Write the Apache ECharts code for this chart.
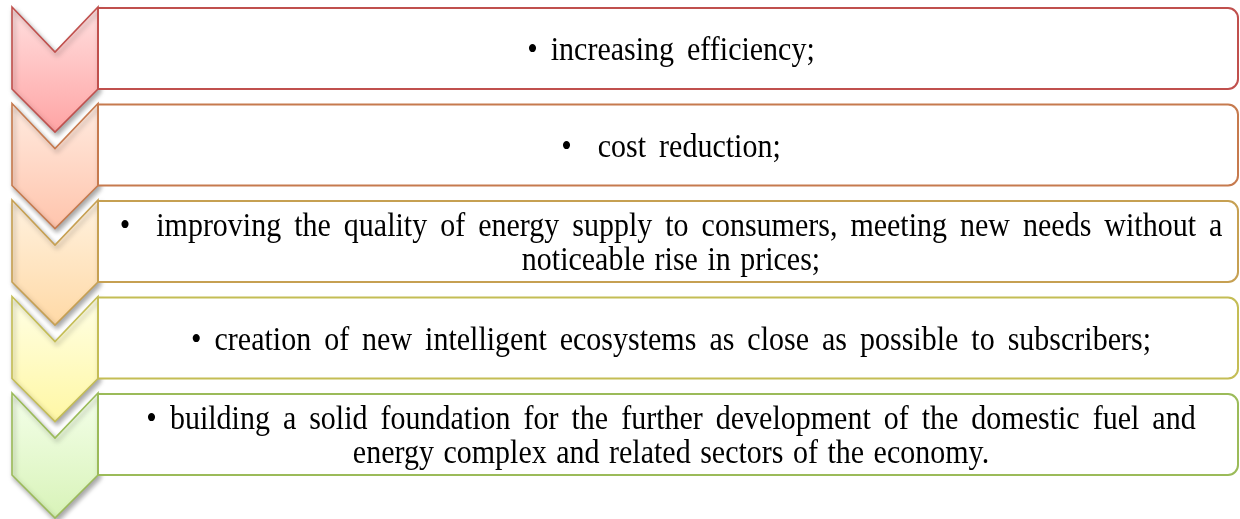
<!DOCTYPE html>
<html>
<head>
<meta charset="utf-8">
<script src="https://cdn.jsdelivr.net/npm/echarts@6/dist/echarts.min.js"></script>
<style>
  html, body { margin: 0; padding: 0; background: #fff; }
  #main { width: 1240px; height: 519px; }
</style>
</head>
<body>
<div id="main"></div>
<script>
// text of each step, one entry per line
const steps = [
  ['• increasing efficiency;'],
  ['•  cost reduction;'],
  ['•  improving the quality of energy supply to consumers, meeting new needs without a', 'noticeable rise in prices;'],
  ['• creation of new intelligent ecosystems as close as possible to subscribers;'],
  ['• building a solid foundation for the further development of the domestic fuel and', 'energy complex and related sectors of the economy.']
];
const borderColors = ['#C0504D', '#C67A4E', '#C6A052', '#C4BD55', '#9BBB59'];
const fillTop = ['#FFE0E0', '#FFEBE0', '#FFF2E0', '#FFFFE6', '#F4FFEA'];
const fillBottom = ['#FFA4A4', '#FFC4AC', '#FFD9A6', '#FFF7A4', '#D8F3B8'];

const STEP = 96.5;
const TOP = 7;
const FONT = '30px "Liberation Serif", "Times New Roman", serif';
const LINE_H = 34;
const EXTRA_SPACE = 5.5;   // wider word gaps, as in the original
const EXTRA_LAST = 2;      // last line of a paragraph is looser only a bit
const TEXT_CX = 671;

const measure = document.createElement('canvas').getContext('2d');
measure.font = FONT;
const spaceW = measure.measureText(' ').width;

// lay out one line as separate words, left x of each
function layoutLine(line, extra) {
  const words = line.split(' ');
  const gap = spaceW + extra;
  const out = [];
  let x = 0;
  words.forEach((w, k) => {
    if (w === '') { x += gap; return; }
    out.push({ w: w, x: x });
    x += measure.measureText(w).width;
    if (k < words.length - 1) x += gap;
  });
  return { words: out, width: x };
}

const chart = echarts.init(document.getElementById('main'), null, { renderer: 'canvas' });

function renderItem(params, api) {
  const i = api.value(0);
  const y0 = TOP + i * STEP;
  const c = (x, y) => api.coord([x, y]);
  const pts = [[12, y0], [55, y0 + 45], [98, y0], [98, y0 + 82], [55, y0 + 125], [12, y0 + 82]].map(p => c(p[0], p[1]));
  const boxTL = c(98, y0 + 1);
  const boxBR = c(1238, y0 + 82);
  const lines = steps[i];
  const children = [
    {
      type: 'polygon',
      shape: { points: pts },
      style: {
        fill: new echarts.graphic.LinearGradient(0, 0, 0, 1, [
          { offset: 0, color: fillTop[i] },
          { offset: 1, color: fillBottom[i] }
        ]),
        stroke: borderColors[i],
        lineWidth: 1.6,
        shadowBlur: 5,
        shadowOffsetX: 2,
        shadowOffsetY: 3,
        shadowColor: 'rgba(0,0,0,0.35)'
      }
    },
    {
      type: 'rect',
      shape: { x: boxTL[0], y: boxTL[1], width: boxBR[0] - boxTL[0], height: boxBR[1] - boxTL[1], r: [0, 10, 10, 0] },
      style: { fill: '#fff', stroke: borderColors[i], lineWidth: 2 }
    }
  ];
  const n = lines.length;
  lines.forEach((line, j) => {
    const last = n > 1 && j === n - 1;
    const lay = layoutLine(line, last ? EXTRA_LAST : EXTRA_SPACE);
    const p = c(TEXT_CX, y0 + 42 + (j - (n - 1) / 2) * LINE_H);
    const left = p[0] - lay.width / 2;
    lay.words.forEach(wd => {
      children.push({
        type: 'text',
        x: left + wd.x,
        y: p[1] + 2.75,
        scaleY: 1.1,
        style: {
          text: wd.w,
          fill: '#000',
          font: FONT,
          align: 'left',
          verticalAlign: 'middle'
        }
      });
    });
  });
  return { type: 'group', children: children };
}

chart.setOption({
  animation: false,
  grid: { left: 0, right: 0, top: 0, bottom: 0 },
  xAxis: { type: 'value', min: 0, max: 1240, show: false },
  yAxis: { type: 'value', min: 0, max: 519, inverse: true, show: false },
  series: [{
    type: 'custom',
    renderItem: renderItem,
    data: steps.map((s, i) => [i]),
    clip: false
  }]
});
</script>
</body>
</html>
